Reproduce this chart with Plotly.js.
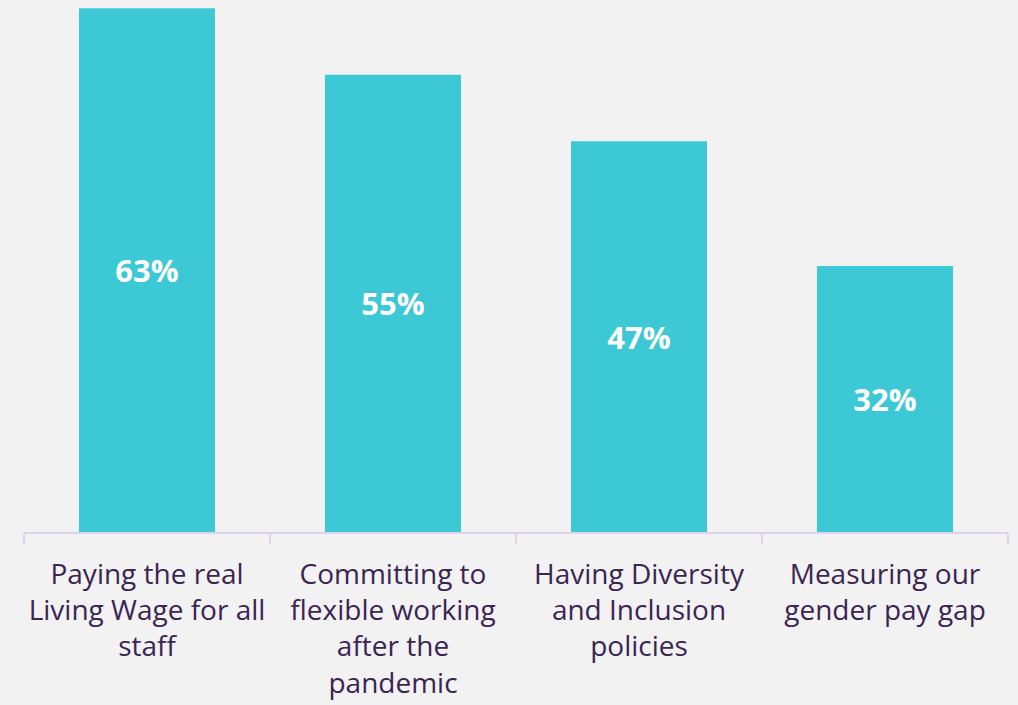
<!DOCTYPE html>
<html>
<head>
<meta charset="utf-8">
<script src="https://cdn.plot.ly/plotly-3.0.1.min.js"></script>
<style>html,body{margin:0;padding:0;background:#f2f2f2;}#chart{width:1018px;height:705px;}</style>
</head>
<body>
<div id="chart"></div>
<script>
const categories = [
  "Paying the real<br>Living Wage for all<br>staff",
  "Committing to<br>flexible working<br>after the<br>pandemic",
  "Having Diversity<br>and Inclusion<br>policies",
  "Measuring our<br>gender pay gap"
];
const values = [63, 55, 47, 32];
const valueLabels = values.map(v => v + "%");

const trace = {
  type: "bar",
  x: categories,
  y: values,
  text: valueLabels,
  textposition: "inside",
  insidetextanchor: "middle",
  textfont: {family: "Open Sans, sans-serif", size: 31, color: "#ffffff", weight: "bold"},
  marker: {color: "#3cc8d5"},
  width: 0.553,
  hoverinfo: "none"
};

const layout = {
  width: 1018, height: 705,
  margin: {l: 24, r: 10, t: 0, b: 173},
  paper_bgcolor: "#f2f2f2",
  plot_bgcolor: "#f2f2f2",
  showlegend: false,
  xaxis: {
    showline: true, linecolor: "#ddd3ef", linewidth: 2,
    ticks: "outside", tickson: "boundaries", ticklen: 10, tickcolor: "#ddd3ef", tickwidth: 2,
    ticklabelstandoff: 16, tickangle: 0,
    tickfont: {family: "Open Sans, sans-serif", size: 28, color: "#3b2553"},
    showgrid: false, zeroline: false, fixedrange: true
  },
  yaxis: {
    range: [0, 64], visible: false, showgrid: false, zeroline: false, fixedrange: true
  }
};

Plotly.newPlot("chart", [trace], layout, {displayModeBar: false, staticPlot: true});
</script>
</body>
</html>
